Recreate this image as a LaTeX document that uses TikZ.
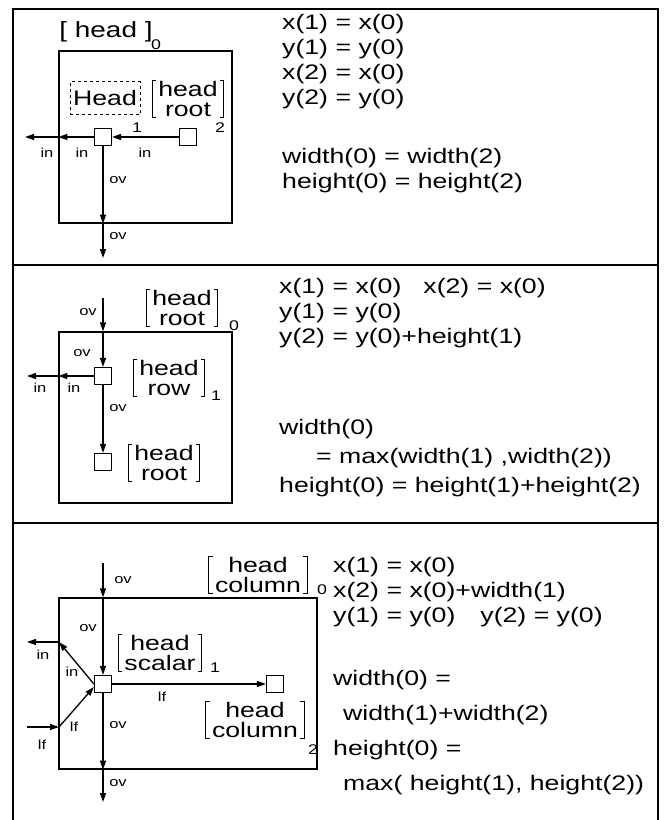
\documentclass[tikz,border=0pt]{standalone}
\usepackage{fontspec}
\setmainfont{Liberation Sans}[FakeStretch=1.27]
\usetikzlibrary{arrows.meta}

\tikzset{
  frame/.style={line width=2.4pt},
  box/.style={draw,line width=1.4pt,inner sep=0pt},
  cell/.style={draw,line width=1.2pt,minimum size=17pt,inner sep=0pt},
  flow/.style={line width=1.3pt,-{Triangle[length=9pt,width=6pt]}},
  lbl/.style={font=\fontsize{13}{13}\selectfont,inner sep=0pt},
  idx/.style={font=\fontsize{14}{14}\selectfont,inner sep=0pt},
  feat/.style={align=center,inner xsep=6pt,inner ysep=1pt,font=\fontsize{21}{20}\selectfont},
  eqn/.style={align=left,anchor=north west,inner sep=0pt,font=\fontsize{21}{25}\selectfont},
}
\newcommand{\brackets}[1]{%
  \draw[line width=1pt] ([xshift=4pt]#1.north west) -- (#1.north west) -- (#1.south west) -- ++(4pt,0);
  \draw[line width=1pt] ([xshift=-4pt]#1.north east) -- (#1.north east) -- (#1.south east) -- ++(-4pt,0);}

\begin{document}
\begin{tikzpicture}[x=1pt,y=-1pt]
  \useasboundingbox (0,0) rectangle (672,820);

  % rahmen
  \draw[frame] (13,830) |- (658,9) -- (658,830);
  \draw[frame] (13,265) -- (658,265);
  \draw[frame] (13,523) -- (658,523);

  % --- feld 1 ---
  \node[box,minimum width=173pt,minimum height=172pt] (box1) at (145.5,137) {};
  \node[cell] (a1) at (103,137) {};
  \node[cell] (a2) at (188,137) {};
  \node[inner sep=0pt,font=\fontsize{22}{22}\selectfont] (t0) at (106,32) {[ head ]};
  \node[idx] (ia0) at (156,45) {0};
  \node[draw,dashed,line width=1pt,minimum width=70pt,minimum height=33pt,inner sep=0pt,
        font=\fontsize{21}{21}\selectfont] (hd) at (105,98) {Head};
  \node[idx] (ia1) at (137,128) {1};
  \node[feat] (ra) at (188,99) {head\\root};
  \brackets{ra}
  \node[idx] (ia2) at (220,128) {2};

  \coordinate (pa) at (box1.west |- a1);
  \coordinate (qa) at (25,137);
  \coordinate (sa) at (a1 |- box1.south);
  \coordinate (ua) at (103,258);
  \draw[flow] (a2) -- (a1);
  \draw[flow] (a1) -- (pa);
  \draw[flow] (pa) -- (qa);
  \draw[flow] (a1) -- (sa);
  \draw[flow] (sa) -- (ua);

  \node[lbl] (la1) at (47,153) {in};
  \node[lbl] (la2) at (82,153) {in};
  \node[lbl] (la3) at (145,153) {in};
  \node[lbl] (la4) at (118,180) {ov};
  \node[lbl] (la5) at (118,236) {ov};

  \node[eqn] (eqa) at (282,14) {x(1) = x(0)\\y(1) = y(0)\\x(2) = x(0)\\y(2) = y(0)\\[34pt]
    width(0) = width(2)\\height(0) = height(2)};

  % --- feld 2 ---
  \node[box,minimum width=173pt,minimum height=171pt] (box2) at (145.5,417.5) {};
  \node[cell] (b1) at (103,376) {};
  \node[cell] (b2) at (103,462) {};
  \node[feat] (rb0) at (182,308) {head\\root};
  \brackets{rb0}
  \node[idx] (ib0) at (234,326) {0};
  \node[feat] (rb1) at (169,378) {head\\row};
  \brackets{rb1}
  \node[idx] (ib1) at (216,396) {1};
  \node[feat] (rb2) at (164,463) {head\\root};
  \brackets{rb2}

  \coordinate (tb) at (103,298);
  \coordinate (nb) at (b1 |- box2.north);
  \coordinate (pb) at (box2.west |- b1);
  \coordinate (qb) at (27,376);
  \draw[flow] (tb) -- (nb);
  \draw[flow] (nb) -- (b1);
  \draw[flow] (b1) -- (pb);
  \draw[flow] (pb) -- (qb);
  \draw[flow] (b1) -- (b2);

  \node[lbl] (lb1) at (88,312) {ov};
  \node[lbl] (lb2) at (82,353) {ov};
  \node[lbl] (lb3) at (40,388) {in};
  \node[lbl] (lb4) at (74,388) {in};
  \node[lbl] (lb5) at (118,408) {ov};

  \node[eqn] (eqb) at (279,278) {x(1) = x(0)\hspace*{22pt}x(2) = x(0)\\y(1) = y(0)\\
    y(2) = y(0)+height(1)\\[66pt]width(0)\\[4pt]\hspace*{37pt}= max(width(1) ,width(2))\\[4pt]
    height(0) = height(1)+height(2)};

  % --- feld 3 ---
  \node[box,minimum width=258pt,minimum height=171pt] (box3) at (188,683.5) {};
  \node[cell] (c1) at (103,684) {};
  \node[cell] (c2) at (275,684) {};
  \node[feat] (rc0) at (258,575) {head\\column};
  \brackets{rc0}
  \node[idx] (ic0) at (322,590) {0};
  \node[feat] (rc1) at (160,653) {head\\scalar};
  \brackets{rc1}
  \node[idx] (ic1) at (215,668) {1};
  \node[feat] (rc2) at (255,720) {head\\column};
  \brackets{rc2}
  \node[idx] (ic2) at (313,750) {2};

  \coordinate (tc) at (103,563);
  \coordinate (nc) at (c1 |- box3.north);
  \coordinate (pc) at (59,642);
  \coordinate (qc) at (27,642);
  \coordinate (gc) at (27,727);
  \coordinate (hc) at (59,727);
  \coordinate (sc) at (c1 |- box3.south);
  \coordinate (uc) at (103,802);
  \draw[flow] (tc) -- (nc);
  \draw[flow] (nc) -- (c1);
  \draw[flow] (c1.west) -- (pc);
  \draw[flow] (pc) -- (qc);
  \draw[flow] (gc) -- (hc);
  \draw[flow] (hc) -- ([yshift=-3pt]c1.west);
  \draw[flow] (c1) -- (c2);
  \draw[flow] (c1) -- (sc);
  \draw[flow] (sc) -- (uc);

  \node[lbl] (lc1) at (123,580) {ov};
  \node[lbl] (lc2) at (88,628) {ov};
  \node[lbl] (lc3) at (43,655) {in};
  \node[lbl] (lc4) at (72,672) {in};
  \node[lbl] (lc5) at (162,697) {lf};
  \node[lbl] (lc6) at (74,727) {lf};
  \node[lbl] (lc7) at (42,745) {lf};
  \node[lbl] (lc8) at (118,725) {ov};
  \node[lbl] (lc9) at (118,783) {ov};

  \node[eqn] (eqc) at (333,557) {x(1) = x(0)\\x(2) = x(0)+width(1)\\
    y(1) = y(0)\hspace*{25pt}y(2) = y(0)\\[38pt]width(0) =\\[10pt]\hspace*{10pt}width(1)+width(2)\\[10pt]
    height(0) =\\[10pt]\hspace*{10pt}max( height(1), height(2))};
\end{tikzpicture}
\end{document}
